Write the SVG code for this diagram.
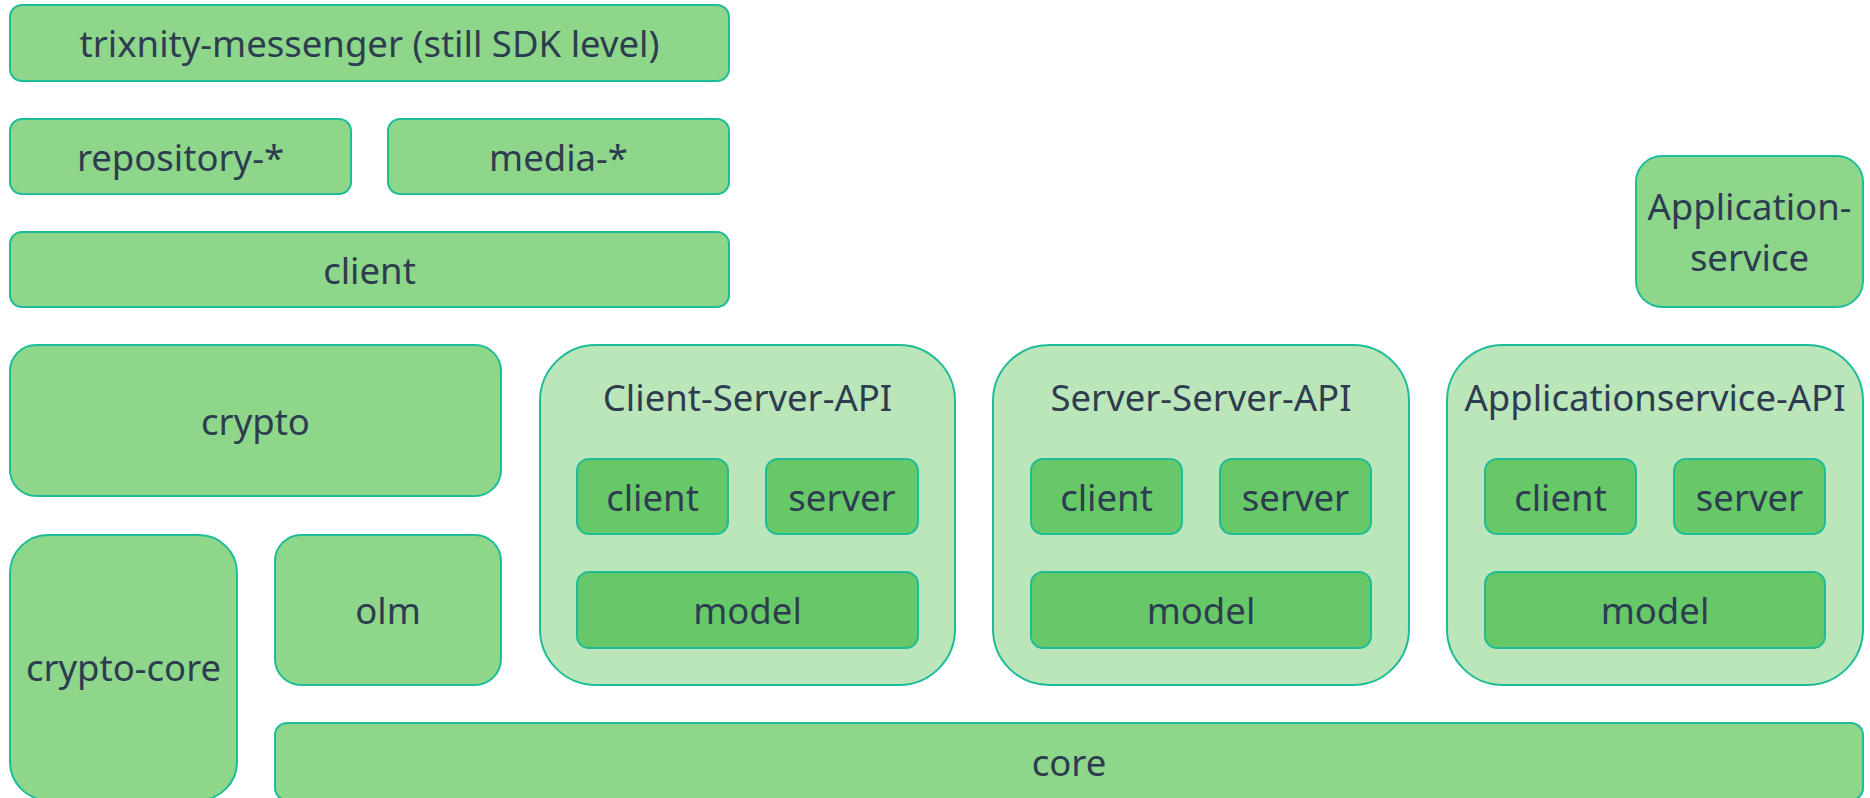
<svg xmlns="http://www.w3.org/2000/svg" width="1870" height="798" viewBox="0 0 1870 798">
<style>
.n{fill:#8dd68a;stroke:#1fbc99;stroke-width:2}
.g{fill:#bbe6b9;stroke:#1fbc99;stroke-width:2}
.d{fill:#67c868;stroke:#1fbc99;stroke-width:2}
text{font-family:"Noto Sans","Open Sans",sans-serif;font-size:36.5px;fill:#2e3c50;text-anchor:middle;dominant-baseline:central}
</style>
<rect width="1870" height="798" fill="#ffffff"/>
<g id="trixnity-messenger"><rect class="n" x="10" y="5" width="719" height="76" rx="12"/><text x="369.5" y="43">trixnity-messenger (still SDK level)</text></g>
<g id="repository"><rect class="n" x="10" y="119" width="341" height="75" rx="12"/><text x="180.5" y="157">repository-*</text></g>
<g id="media"><rect class="n" x="388" y="119" width="341" height="75" rx="12"/><text x="558.5" y="157">media-*</text></g>
<g id="client"><rect class="n" x="10" y="232" width="719" height="75" rx="12"/><text x="369.5" y="270">client</text></g>
<g id="applicationservice"><rect class="n" x="1636" y="156" width="227" height="151" rx="26"/><text x="1749.5" y="206">Application-</text><text x="1749.5" y="257">service</text></g>
<g id="crypto"><rect class="n" x="10" y="345" width="491" height="151" rx="26"/><text x="255.5" y="421">crypto</text></g>
<g id="crypto-core"><rect class="n" x="10" y="535" width="227" height="265" rx="38"/><text x="123.5" y="667">crypto-core</text></g>
<g id="olm"><rect class="n" x="275" y="535" width="226" height="150" rx="26"/><text x="388" y="610">olm</text></g>
<g id="client-server-api"><rect class="g" x="540" y="345" width="415" height="340" rx="56"/><text x="747.5" y="397">Client-Server-API</text>
<rect class="d" x="577" y="459" width="151" height="75" rx="12"/><text x="652.5" y="497">client</text>
<rect class="d" x="766" y="459" width="152" height="75" rx="12"/><text x="842" y="497">server</text>
<rect class="d" x="577" y="572" width="341" height="76" rx="12"/><text x="747.5" y="610">model</text></g>
<g id="server-server-api"><rect class="g" x="993" y="345" width="416" height="340" rx="56"/><text x="1201" y="397">Server-Server-API</text>
<rect class="d" x="1031" y="459" width="151" height="75" rx="12"/><text x="1106.5" y="497">client</text>
<rect class="d" x="1220" y="459" width="151" height="75" rx="12"/><text x="1295.5" y="497">server</text>
<rect class="d" x="1031" y="572" width="340" height="76" rx="12"/><text x="1201" y="610">model</text></g>
<g id="applicationservice-api"><rect class="g" x="1447" y="345" width="416" height="340" rx="56"/><text x="1655" y="397">Applicationservice-API</text>
<rect class="d" x="1485" y="459" width="151" height="75" rx="12"/><text x="1560.5" y="497">client</text>
<rect class="d" x="1674" y="459" width="151" height="75" rx="12"/><text x="1749.5" y="497">server</text>
<rect class="d" x="1485" y="572" width="340" height="76" rx="12"/><text x="1655" y="610">model</text></g>
<g id="core"><rect class="n" x="275" y="723" width="1588" height="77" rx="12"/><text x="1069" y="762">core</text></g>
<g id="connectors"></g>
</svg>
